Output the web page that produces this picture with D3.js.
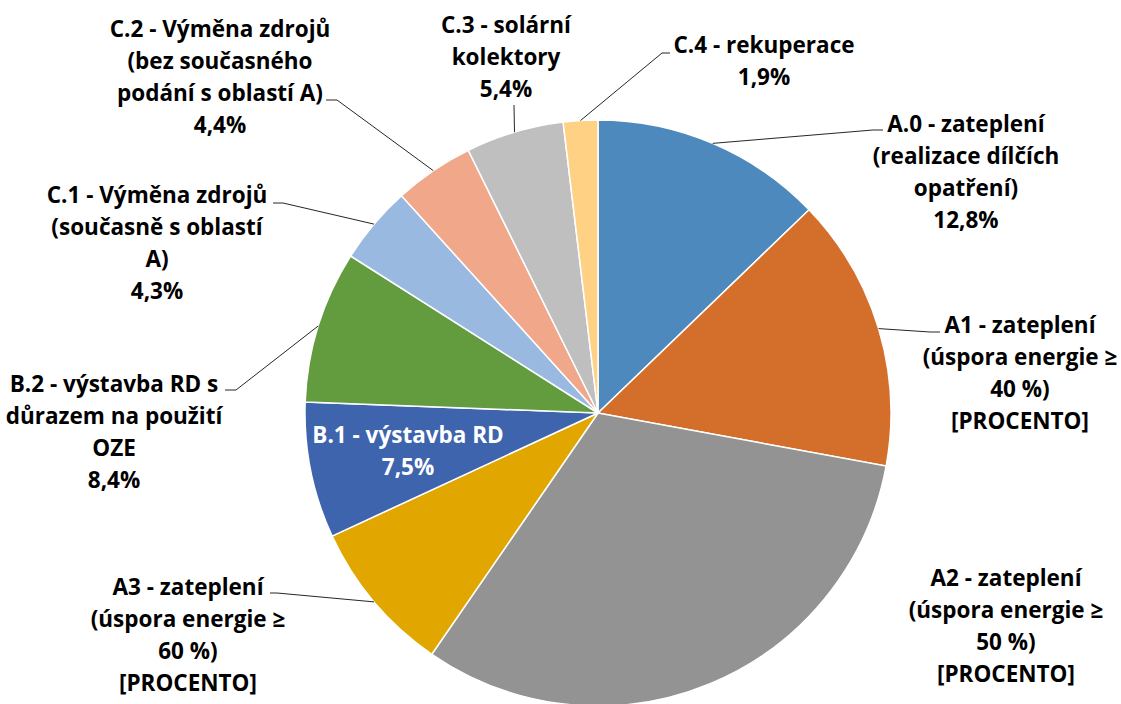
<!DOCTYPE html>
<html>
<head>
<meta charset="utf-8">
<script src="https://cdn.jsdelivr.net/npm/d3@7"></script>
<style>
  html, body { margin: 0; padding: 0; background: #fff; }
  text { font-family: "Open Sans", Lato, sans-serif; font-weight: bold; }
</style>
</head>
<body>
<svg id="chart" width="1121" height="704"></svg>
<script>
// Categories (label lines split where the original wraps)
const categories = [
  "A.0 - zateplení\n(realizace dílčích\nopatření)",
  "A1 - zateplení\n(úspora energie ≥\n40 %)",
  "A2 - zateplení\n(úspora energie ≥\n50 %)",
  "A3 - zateplení\n(úspora energie ≥\n60 %)",
  "B.1 - výstavba RD",
  "B.2 - výstavba RD s\ndůrazem na použití\nOZE",
  "C.1 - Výměna zdrojů\n(současně s oblastí\nA)",
  "C.2 - Výměna zdrojů\n(bez současného\npodání s oblastí A)",
  "C.3 - solární\nkolektory",
  "C.4 - rekuperace"
];
// Shares in percent (A1–A3)
const shares = [12.8, 15.1, 31.7, 8.5, 7.5, 8.4, 4.3, 4.4, 5.4, 1.9];
// Slices whose value label shows the placeholder text
const placeholderValue = [false, true, true, true, false, false, false, false, false, false];
const placeholderText = "[PROCENTO]";

const colors = [
  "#4e89bd", "#d46f2b", "#939393", "#e1a700", "#3e64ad",
  "#639b3f", "#99b9e0", "#f0a78a", "#bfbfbf", "#ffd185"
];

// Label placement: centre x, first baseline, leader elbow + stub end
const labelLayout = [
  { cx: 966,  y: 132, elbow: [873, 130], end: [883, 130] },
  { cx: 1020, y: 333, elbow: [930, 332], end: [940, 332] },
  { cx: 1006, y: 586 },
  { cx: 188,  y: 595, elbow: [277, 593], end: [270, 593] },
  { cx: 408,  y: 443, inside: true },
  { cx: 114,  y: 392, elbow: [236, 390], end: [225, 390] },
  { cx: 157,  y: 203, elbow: [283, 203], end: [273, 203] },
  { cx: 220,  y: 37,  elbow: [337, 100], end: [326, 100] },
  { cx: 506,  y: 33,  elbow: [514, 105], end: [514, 105] },
  { cx: 764,  y: 53,  elbow: [662, 53],  end: [670, 53] }
];

const width = 1121, height = 704;
const cx = 598, cy = 413, radius = 293;
const lineGap = 32;
const fontSize = 22.5;

const svg = d3.select("#chart");
svg.append("rect").attr("width", width).attr("height", height).attr("fill", "#fff");

const data = categories.map((name, i) => ({
  name, value: shares[i], color: colors[i],
  valueText: placeholderValue[i] ? placeholderText : d3.format(".1f")(shares[i]).replace(".", ",") + "%",
  layout: labelLayout[i]
}));

const pie = d3.pie().sort(null).value((d) => d.value);
const arc = d3.arc().innerRadius(0).outerRadius(radius);
const arcs = pie(data);

const g = svg.append("g").attr("transform", `translate(${cx},${cy})`);

g.selectAll("path.slice")
  .data(arcs)
  .join("path")
  .attr("class", "slice")
  .attr("d", arc)
  .attr("fill", (d) => d.data.color)
  .attr("stroke", "#fff")
  .attr("stroke-width", 1.5);

// Leader lines: from the slice mid-angle on the rim to the label
arcs.forEach((a) => {
  const lay = a.data.layout;
  if (!lay.elbow) return;
  const mid = (a.startAngle + a.endAngle) / 2;
  const rim = [cx + radius * Math.sin(mid), cy - radius * Math.cos(mid)];
  svg.append("polyline")
    .attr("points", [rim, lay.elbow, lay.end].map((p) => p.join(",")).join(" "))
    .attr("fill", "none")
    .attr("stroke", "#262626")
    .attr("stroke-width", 1);
});

// Labels
arcs.forEach((a) => {
  const lay = a.data.layout;
  const lines = a.data.name.split("\n").concat([a.data.valueText]);
  const text = svg.append("text")
    .attr("text-anchor", "middle")
    .attr("font-size", fontSize)
    .attr("fill", lay.inside ? "#fff" : "#000");
  lines.forEach((line, i) => {
    text.append("tspan")
      .attr("x", lay.cx)
      .attr("y", lay.y + i * lineGap)
      .text(line);
  });
});
</script>
</body>
</html>
